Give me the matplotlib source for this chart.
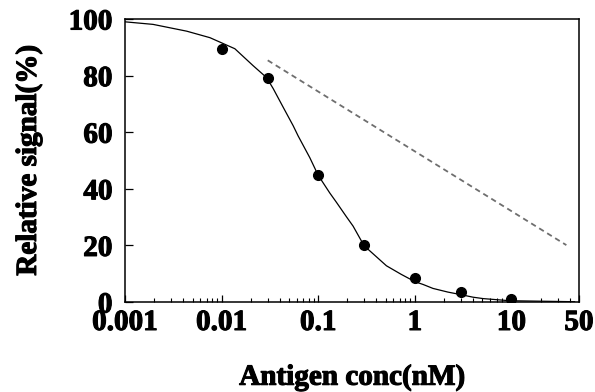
import numpy as np
import matplotlib
matplotlib.use('Agg')
import matplotlib.pyplot as plt
import matplotlib.patheffects as pe
from matplotlib.ticker import LogLocator, FixedLocator, FixedFormatter, NullFormatter

# Measured data points (antigen conc in nM, relative signal in %)
conc = [0.01, 0.03, 0.1, 0.3, 1, 3, 10]
signal = [89.5, 79.3, 45.0, 20.0, 8.4, 3.6, 1.0]

# Fitted curve
curve_x = [0.001, 0.00195, 0.00435, 0.00757, 0.0137, 0.0155, 0.0212, 0.0292,
           0.0342, 0.0434, 0.055, 0.0619, 0.0818, 0.0998, 0.1318, 0.1545,
           0.196, 0.2296, 0.298, 0.508, 0.72, 1.0, 1.216, 1.54, 2.2, 2.9,
           4.0, 5.1, 9.6, 45.0]
curve_y = [99.0, 98.1, 95.7, 93.4, 89.5, 87.8, 83.5, 79.3,
           75.4, 68.8, 62.3, 58.7, 51.0, 44.8, 38.5, 35.2,
           30.1, 26.8, 19.9, 12.8, 9.8, 7.2, 6.2, 4.8, 3.5, 2.7,
           1.7, 1.2, 0.45, 0.1]

# Gray dashed reference line
ref_x = [0.03, 37]
ref_y = [85.4, 20.1]

xticks = [0.001, 0.01, 0.1, 1, 10, 50]
xticklabels = ['0.001', '0.01', '0.1', '1', '10', '50']
yticks = [0, 20, 40, 60, 80, 100]

plt.rcParams['font.family'] = ['Liberation Serif', 'DejaVu Serif']
plt.rcParams['font.weight'] = 'bold'

fig = plt.figure(figsize=(5.95, 3.92), dpi=100)
ax = fig.add_axes([125 / 595, 1 - 302 / 392, (579 - 125) / 595, (302 - 19) / 392])

ax.plot(curve_x, curve_y, color='black', lw=0.9)
ax.plot(ref_x, ref_y, color='#6e6e6e', lw=1.3, ls=(0, (3, 2.2)))
ax.plot(conc, signal, 'o', color='black', ms=7)

ax.set_xscale('log')
ax.set_xlim(0.001, 50)
ax.set_ylim(0, 100)

ax.xaxis.set_major_locator(FixedLocator(xticks))
ax.xaxis.set_major_formatter(FixedFormatter(xticklabels))
ax.xaxis.set_minor_locator(LogLocator(base=10, subs=np.arange(2, 10), numticks=20))
ax.xaxis.set_minor_formatter(NullFormatter())
ax.set_yticks(yticks)

ax.tick_params(axis='x', which='major', direction='in', length=5, width=0.9,
               labelsize=21, pad=5, top=False)
ax.tick_params(axis='x', which='minor', direction='in', length=3, width=0.8, top=False)
ax.tick_params(axis='y', which='major', direction='in', length=6, width=0.9,
               labelsize=21, pad=9, right=False)

for s in ax.spines.values():
    s.set_linewidth(1.1)

ax.set_xlabel('Antigen conc(nM)', fontsize=21, fontweight='bold', labelpad=20)
ax.set_ylabel('Relative signal(%)', fontsize=21, fontweight='bold', labelpad=19)

# the original lettering is very heavy, thicken it a little
heavy = [pe.withStroke(linewidth=0.8, foreground='black')]
for t in ax.get_xticklabels() + ax.get_yticklabels() + [ax.xaxis.label, ax.yaxis.label]:
    t.set_path_effects(heavy)

fig.savefig('out.png', dpi=100)
